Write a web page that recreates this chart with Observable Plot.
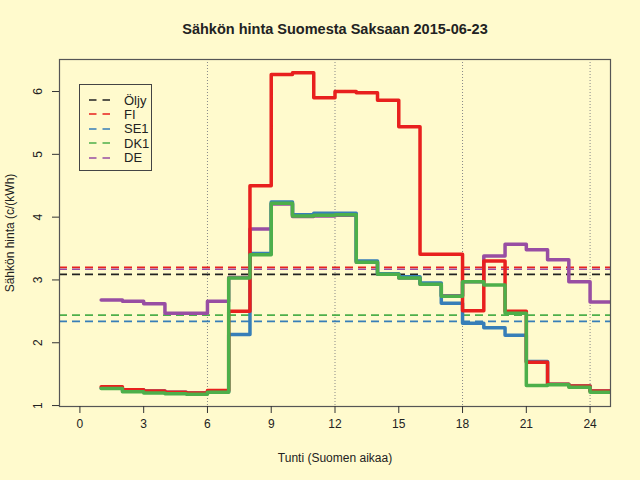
<!DOCTYPE html>
<html>
<head>
<meta charset="utf-8">
<script src="https://cdn.jsdelivr.net/npm/d3@7"></script>
<script src="https://cdn.jsdelivr.net/npm/@observablehq/plot@0.6"></script>
<style>
  html, body { margin: 0; padding: 0; background: #fffacd; }
  #wrap { position: relative; width: 640px; height: 480px; background: #fffacd; font-family: "Liberation Sans", Arial, sans-serif; }
  #legend { position: absolute; left: 79px; top: 84px; width: 73px; height: 87px; border: 1px solid #444; box-sizing: border-box; }
  .row { position: absolute; left: 0; height: 14px; display: flex; align-items: center; font-size: 13px; color: #222; }
  .row svg { margin-left: 9px; margin-right: 14px; }
</style>
</head>
<body>
<div id="wrap"><div id="legend"></div></div>
<script>
const title = "Sähkön hinta Suomesta Saksaan 2015-06-23";
const xLabel = "Tunti (Suomen aikaa)";
const yLabel = "Sähkön hinta (c/(kWh)";

const hours = [1,2,3,4,5,6,7,8,9,10,11,12,13,14,15,16,17,18,19,20,21,22,23,24];
const fi  = [1.30,1.25,1.23,1.21,1.20,1.24,2.50,4.50,6.27,6.30,5.90,6.00,5.98,5.86,5.44,3.41,3.41,2.51,3.30,2.50,1.69,1.34,1.31,1.23];
const se1 = [1.28,1.25,1.23,1.21,1.20,1.22,2.13,3.42,4.24,4.04,4.06,4.06,3.30,3.10,3.05,2.95,2.63,2.31,2.24,2.12,1.70,1.34,1.31,1.23];
const dk1 = [1.27,1.22,1.20,1.19,1.18,1.21,3.03,3.40,4.22,4.02,4.03,4.04,3.28,3.09,3.03,2.93,2.74,2.97,2.92,2.47,1.32,1.33,1.29,1.21];
const de  = [2.68,2.66,2.62,2.47,2.47,2.66,3.04,3.81,4.21,4.01,4.02,4.03,3.28,3.09,3.03,2.93,2.75,2.97,3.38,3.57,3.48,3.32,2.97,2.65];

const avgNames  = ["Öljy","FI","SE1","DK1","DE"];
const avgValues = [3.09, 3.20, 2.34, 2.44, 3.17];
const colors    = ["#222222","#e8201e","#377eb8","#4daf4a","#984ea3"];

const xTicks = [0,3,6,9,12,15,18,21,24];
const yTicks = [1,2,3,4,5,6];
const dayMarks = [6,12,18,24];

function stepRows(vals) {
  const rows = hours.map((h, i) => ({x: h, y: vals[i]}));
  rows.push({x: hours[hours.length - 1] + 1, y: vals[vals.length - 1]});
  return rows;
}

const seriesOrder = [["DE", de], ["SE1", se1], ["FI", fi], ["DK1", dk1]];
const colorOf = Object.fromEntries(avgNames.map((n, i) => [n, colors[i]]));
const avgRows = avgNames.map((n, i) => ({name: n, v: avgValues[i], c: colors[i]}));

const font = "Liberation Sans, Arial, sans-serif";

const chart = Plot.plot({
  width: 640,
  height: 480,
  marginLeft: 59,
  marginRight: 30,
  marginTop: 59,
  marginBottom: 74,
  style: {background: "#fffacd", fontFamily: font, fontSize: "12px", color: "#222"},
  x: {domain: [-0.96, 24.96]},
  y: {domain: [0.985, 6.51]},
  marks: [
    Plot.ruleX(dayMarks, {stroke: "#888", strokeWidth: 1, strokeDasharray: "1,2"}),
    Plot.ruleY(avgRows, {y: "v", stroke: "c", strokeWidth: 1.7, strokeDasharray: "8,5"}),
    ...seriesOrder.map(([name, vals]) =>
      Plot.line(stepRows(vals), {x: "x", y: "y", curve: "step-after", stroke: colorOf[name], strokeWidth: 3.5, clip: true})
    ),
    Plot.frame({stroke: "#555", strokeWidth: 1.2}),
    Plot.axisX({ticks: xTicks, tickSize: 7, tickPadding: 6, fontSize: 12, label: null, stroke: "#333"}),
    Plot.axisY({ticks: yTicks, tickSize: 7, tickFormat: () => "", label: null, stroke: "#333"}),
    Plot.text(yTicks, {y: d => d, text: d => String(d), frameAnchor: "left", dx: -21, rotate: -90, textAnchor: "middle", lineAnchor: "middle", fontSize: 12, fill: "#222"}),
    Plot.text([yLabel], {text: d => d, frameAnchor: "left", dx: -49, rotate: -90, textAnchor: "middle", lineAnchor: "middle", fontSize: 12, fill: "#222"}),
    Plot.text([xLabel], {text: d => d, frameAnchor: "bottom", dy: 52, lineAnchor: "middle", fontSize: 12, fill: "#222"}),
    Plot.text([title], {text: d => d, frameAnchor: "top", dy: -26, lineAnchor: "bottom", fontSize: 14.5, fontWeight: "bold", fill: "#222"})
  ]
});

const wrap = document.getElementById("wrap");
wrap.insertBefore(chart, wrap.firstChild);

const legend = document.getElementById("legend");
avgNames.forEach((n, i) => {
  const row = document.createElement("div");
  row.className = "row";
  row.style.top = (8 + i * 14.4) + "px";
  row.innerHTML = `<svg width="21" height="4"><line x1="0" y1="2" x2="21" y2="2" stroke="${colors[i]}" stroke-width="1.7" stroke-dasharray="7.5,6"/></svg><span>${n}</span>`;
  legend.appendChild(row);
});
</script>
</body>
</html>
